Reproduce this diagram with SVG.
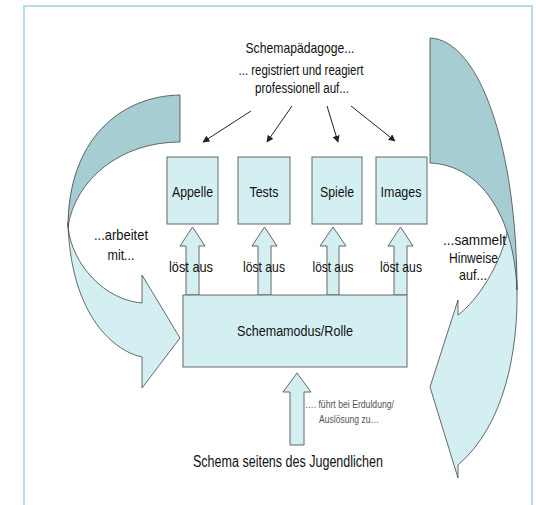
<svg xmlns="http://www.w3.org/2000/svg" width="536" height="505" viewBox="0 0 536 505">
<defs>
<style>
.t{font-family:"Liberation Sans",Arial,sans-serif;fill:#111;text-anchor:middle}
.box{fill:#d4eff2;stroke:#666;stroke-width:1}
.band{fill:#d4eff2;stroke:#444;stroke-width:0.8}
.dark{fill:#a6cdd1;stroke:#444;stroke-width:0.8}
.ln{stroke:#222;stroke-width:1;fill:none;marker-end:url(#ah)}
</style>
<marker id="ah" viewBox="0 0 10 10" refX="9" refY="5" markerWidth="7" markerHeight="7" orient="auto" markerUnits="userSpaceOnUse">
<path d="M0,0 L10,5 L0,10 Z" fill="#222"/>
</marker>
</defs>
<rect x="0" y="0" width="536" height="505" fill="#fff"/>
<rect x="24" y="6" width="508" height="520" fill="#fff" stroke="#b3dfe4" stroke-width="2"/>

<g id="left-curve">
<path class="band" d="M68,222 C70,310 110,350 142,357 L142,388 L180,338 L142,275 L142,303 C105,300 72,265 68,227 Z"/>
<path class="dark" d="M180,95 C120,96 68,140 68,227 C75,180 120,142 180,142 Z"/>
<text class="t" x="121" y="240" font-size="15" textLength="54" lengthAdjust="spacingAndGlyphs">...arbeitet</text>
<text class="t" x="121" y="260" font-size="15" textLength="27" lengthAdjust="spacingAndGlyphs">mit...</text>
</g>

<g id="right-curve">
<path class="band" d="M517,290 C518,350 505,425 458,465 L458,478 L430,387 L458,300 L458,315 C478,300 500,265 507,233 L508,213 L516,262 Z"/>
<path class="dark" d="M430,38 C480,40 517,150 517,290 C514,215 480,165 430,163 Z"/>
<text class="t" x="474.5" y="245" font-size="15" textLength="63" lengthAdjust="spacingAndGlyphs">...sammelt</text>
<text class="t" x="473.5" y="263" font-size="15" textLength="49" lengthAdjust="spacingAndGlyphs">Hinweise</text>
<text class="t" x="473" y="280" font-size="15" textLength="28" lengthAdjust="spacingAndGlyphs">auf...</text>
</g>

<g id="title">
<text class="t" x="300" y="53" font-size="15" textLength="109" lengthAdjust="spacingAndGlyphs">Schemapädagoge...</text>
<text class="t" x="301" y="75" font-size="14" textLength="125" lengthAdjust="spacingAndGlyphs">... registriert und reagiert</text>
<text class="t" x="302" y="93" font-size="14" textLength="94" lengthAdjust="spacingAndGlyphs">professionell auf...</text>
</g>

<g id="connectors">
<line class="ln" x1="251" y1="111" x2="203" y2="142"/>
<line class="ln" x1="292" y1="106" x2="267" y2="142"/>
<line class="ln" x1="327" y1="106" x2="338" y2="142"/>
<line class="ln" x1="351" y1="106" x2="395" y2="141"/>
<path class="box" d="M186,295 L186,246 L180,246 L192.5,227 L205,246 L199,246 L199,295 Z"/>
<path class="box" d="M258,295 L258,246 L252,246 L264.5,227 L277,246 L271,246 L271,295 Z"/>
<path class="box" d="M327,295 L327,246 L320,246 L333,227 L346,246 L339,246 L339,295 Z"/>
<path class="box" d="M394,295 L394,246 L388,246 L400.5,227 L413,246 L407,246 L407,295 Z"/>
<path class="box" d="M290,445 L290,392 L283,392 L297,373 L311,392 L304,392 L304,445 Z"/>
<text class="t" x="191" y="272" font-size="15" textLength="44" lengthAdjust="spacingAndGlyphs">löst aus</text>
<text class="t" x="264" y="272" font-size="15" textLength="42" lengthAdjust="spacingAndGlyphs">löst aus</text>
<text class="t" x="333" y="272" font-size="15" textLength="41" lengthAdjust="spacingAndGlyphs">löst aus</text>
<text class="t" x="401" y="272" font-size="15" textLength="42" lengthAdjust="spacingAndGlyphs">löst aus</text>
<text x="305" y="408" font-family="'Liberation Sans',Arial,sans-serif" font-size="10" fill="#555" textLength="89" lengthAdjust="spacingAndGlyphs">…. führt bei Erduldung/</text>
<text x="319" y="423" font-family="'Liberation Sans',Arial,sans-serif" font-size="10" fill="#555" textLength="60" lengthAdjust="spacingAndGlyphs">Auslösung zu…</text>
</g>

<g id="appelle">
<rect class="box" x="167" y="157" width="51" height="67"/>
<text class="t" x="192.5" y="197" font-size="15" textLength="41" lengthAdjust="spacingAndGlyphs">Appelle</text>
</g>
<g id="tests">
<rect class="box" x="238" y="157" width="52" height="67"/>
<text class="t" x="264" y="197" font-size="15" textLength="29" lengthAdjust="spacingAndGlyphs">Tests</text>
</g>
<g id="spiele">
<rect class="box" x="312" y="157" width="50" height="67"/>
<text class="t" x="337" y="197" font-size="15" textLength="34" lengthAdjust="spacingAndGlyphs">Spiele</text>
</g>
<g id="images">
<rect class="box" x="376" y="157" width="51" height="67"/>
<text class="t" x="401" y="197" font-size="15" textLength="41" lengthAdjust="spacingAndGlyphs">Images</text>
</g>
<g id="schemamodus">
<rect class="box" x="183" y="295" width="224" height="72"/>
<text class="t" x="295" y="336" font-size="14" textLength="116" lengthAdjust="spacingAndGlyphs">Schemamodus/Rolle</text>
</g>
<g id="schema">
<text class="t" x="288" y="467" font-size="16" textLength="190" lengthAdjust="spacingAndGlyphs">Schema seitens des Jugendlichen</text>
</g>
</svg>
